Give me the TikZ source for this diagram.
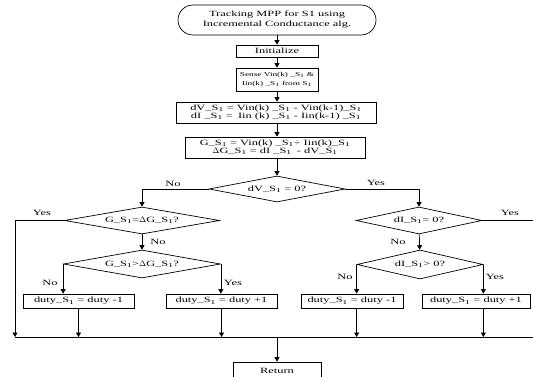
\documentclass[tikz,border=0pt]{standalone}
\usepackage{fontspec}
\setmainfont[FakeStretch=1.55]{Liberation Serif}
\usetikzlibrary{shapes.geometric,arrows.meta}

\newcommand{\Sun}{S\textsubscript{1}}

\tikzset{
  boite/.style={draw, rectangle, inner sep=0pt, align=center, font=\fontsize{8}{8}\selectfont},
  losange/.style={draw, diamond, aspect=5, inner sep=0pt, font=\fontsize{8}{8}\selectfont},
  fleche/.style={-{Triangle[length=4.5pt,width=5pt]}},
  etiq/.style={inner sep=0pt, font=\fontsize{8}{8}\selectfont}
}

\begin{document}
\begin{tikzpicture}[x=1pt, y=-1pt, line width=0.7pt]
\useasboundingbox (0,0) rectangle (533,377);
\clip (0,0) rectangle (533,377);

% Début
\node[boite, rounded corners=15pt, minimum width=198pt, minimum height=30pt,
  font=\fontsize{8}{10}\selectfont] (debut) at (277,20)
  {Tracking MPP for S1 using\\Incremental Conductance alg.};
\node[boite, minimum width=82pt, minimum height=12pt] (init) at (277,51) {Initialize};
\node[boite, minimum width=82pt, minimum height=23pt, font=\fontsize{6}{9}\selectfont]
  (mesure) at (277,79.5) {Sense Vin(k) \_\Sun{} \&\\Iin(k) \_\Sun{} from \Sun};
\node[boite, minimum width=200pt, minimum height=21pt] (diff) at (276,112.5)
  {dV\_\Sun{} = Vin(k) \_\Sun{} - Vin(k-1)\_\Sun\\dI \_\Sun{} =\; Iin (k) \_\Sun{} - Iin(k-1) \_\Sun};
\node[boite, minimum width=180pt, minimum height=21pt] (cond) at (275,147.5)
  {G\_\Sun{} = Vin(k) \_\Sun÷ Iin(k)\_\Sun\\$\Delta$G\_\Sun{} = dI \_\Sun{}\; - dV\_\Sun};

% Tests
\node[losange, minimum width=136pt, minimum height=26pt] (testdV) at (277,189) {dV\_\Sun{} = 0?};
\node[losange, minimum width=155pt, minimum height=27pt] (testG) at (142,220.5) {G\_\Sun=$\Delta$G\_\Sun?};
\node[losange, minimum width=157pt, minimum height=28pt] (testGsup) at (142,264) {G\_\Sun>$\Delta$G\_\Sun?};
\node[losange, minimum width=126pt, minimum height=27pt] (testdI) at (419,220.5) {dI\_\Sun= 0?};
\node[losange, minimum width=126pt, minimum height=29pt] (testdIsup) at (420,264.5) {dI\_\Sun> 0?};

% Rapport cyclique
\node[boite, minimum width=111pt, minimum height=14pt] (dmoins1) at (78.5,301) {duty\_\Sun{} = duty -1};
\node[boite, minimum width=111pt, minimum height=14pt] (dplus1) at (221.5,301) {duty\_\Sun{} = duty +1};
\node[boite, minimum width=102pt, minimum height=14pt] (dmoins2) at (352,301) {duty\_\Sun{} = duty -1};
\node[boite, minimum width=108pt, minimum height=14pt] (dplus2) at (476,301) {duty\_\Sun{} = duty +1};
\node[boite, minimum width=88pt, minimum height=18pt] (retour) at (277,371) {Return};

% Liaisons
\draw[fleche] (debut) -- (init);
\draw[fleche] (init) -- (mesure);
\draw[fleche] (mesure) -- (mesure |- diff.north);
\draw[fleche] (diff.south -| mesure) -- (mesure |- cond.north);
\draw[fleche] (cond.south -| testdV) -- (testdV);
\draw[fleche] (testdV.west) -| (testG);
\draw[fleche] (testdV.east) -| (testdI);
\draw[fleche] (testG) -- (testGsup);
\draw[fleche] (testdI) -- (testdIsup);
\draw[fleche] (testGsup.west) -- (testGsup.west |- dmoins1.north);
\draw[fleche] (testGsup.east) -- (testGsup.east |- dplus1.north);
\draw[fleche] (testdIsup.west) -- (testdIsup.west |- dmoins2.north);
\draw[fleche] (testdIsup.east) -- (testdIsup.east |- dplus2.north);

% Bus de retour
\coordinate (busg) at (15,337);
\coordinate (busd) at (545,337);
\coordinate (sortie) at (545,220.5);
\draw (busg) -- (busd);
\draw (testdI.east) -- (sortie);
\draw[fleche] (testG.west) -| (busg);
\draw[fleche] (dmoins1.south) -- (dmoins1.south |- busg);
\draw[fleche] (dplus1.south) -- (dplus1.south |- busg);
\draw[fleche] (dmoins2.south -| testdIsup.west) -- (testdIsup.west |- busg);
\draw[fleche] (dplus2.south -| testdIsup.east) -- (testdIsup.east |- busg);
\draw[fleche] (retour.north |- busg) -- (retour);

% Etiquettes
\node[etiq] (nonV) at (173,184) {No};
\node[etiq] (ouiV) at (376,183) {Yes};
\node[etiq] (ouiG) at (42,213) {Yes};
\node[etiq] (nonG) at (158,242) {No};
\node[etiq] (nonGs) at (50,283) {No};
\node[etiq] (ouiGs) at (233,283) {Yes};
\node[etiq] (nonI) at (398,242) {No};
\node[etiq] (nonIs) at (345,277) {No};
\node[etiq] (ouiIs) at (495,277) {Yes};
\node[etiq] (ouiI) at (510,213) {Yes};

\end{tikzpicture}
\end{document}
